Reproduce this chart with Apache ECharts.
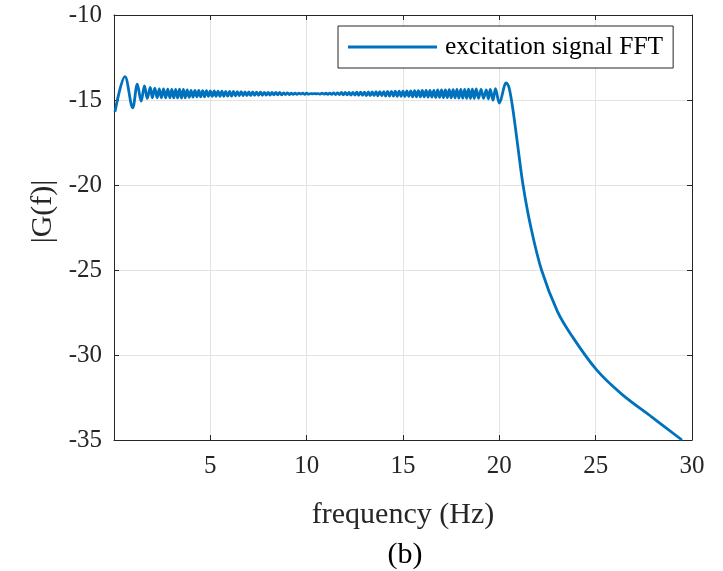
<!DOCTYPE html>
<html>
<head>
<meta charset="utf-8">
<script src="https://cdn.jsdelivr.net/npm/echarts@6/dist/echarts.min.js"></script>
<style>
  html, body { margin: 0; padding: 0; background: #fff; }
  #chart { width: 723px; height: 571px; }
</style>
</head>
<body>
<div id="chart"></div>
<script>
// Spectrum magnitude of the excitation signal, |G(f)|, against frequency (Hz).

// Gibbs ripple at the low band edge (peaks and troughs)
const lowEdgeFreq = [0.05, 0.57, 0.97, 1.21, 1.41, 1.58, 1.73, 1.88, 1.99, 2.12, 2.24,
                     2.35, 2.46, 2.57, 2.68, 2.79, 2.90, 3.00, 3.10, 3.20, 3.30];
const lowEdgeGain = [-15.69, -13.62, -15.46, -14.07, -15.07, -14.17, -14.91, -14.26, -14.87, -14.30, -14.86,
                     -14.34, -14.87, -14.35, -14.87, -14.36, -14.87, -14.37, -14.88, -14.37, -14.88];

// Fine ripple across the pass band
const passFreq = [
  3.4, 3.5, 3.6, 3.7, 3.8, 3.9,
  4.0, 4.1, 4.2, 4.3, 4.4, 4.5, 4.6, 4.7, 4.8, 4.9,
  5.0, 5.1, 5.2, 5.3, 5.4, 5.5, 5.6, 5.7, 5.8, 5.9,
  6.0, 6.1, 6.2, 6.3, 6.4, 6.5, 6.6, 6.7, 6.8, 6.9,
  7.0, 7.1, 7.2, 7.3, 7.4, 7.5, 7.6, 7.7, 7.8, 7.9,
  8.0, 8.1, 8.2, 8.3, 8.4, 8.5, 8.6, 8.7, 8.8, 8.9,
  9.0, 9.1, 9.2, 9.3, 9.4, 9.5, 9.6, 9.7, 9.8, 9.9,
  10.0, 10.1, 10.2, 10.3, 10.4, 10.5, 10.6, 10.7, 10.8, 10.9,
  11.0, 11.1, 11.2, 11.3, 11.4, 11.5, 11.6, 11.7, 11.8, 11.9,
  12.0, 12.1, 12.2, 12.3, 12.4, 12.5, 12.6, 12.7, 12.8, 12.9,
  13.0, 13.1, 13.2, 13.3, 13.4, 13.5, 13.6, 13.7, 13.8, 13.9,
  14.0, 14.1, 14.2, 14.3, 14.4, 14.5, 14.6, 14.7, 14.8, 14.9,
  15.0, 15.1, 15.2, 15.3, 15.4, 15.5, 15.6, 15.7, 15.8, 15.9,
  16.0, 16.1, 16.2, 16.3, 16.4, 16.5, 16.6, 16.7, 16.8, 16.9,
  17.0, 17.1, 17.2, 17.3, 17.4, 17.5, 17.6, 17.7, 17.8, 17.9,
  18.0, 18.1, 18.2, 18.3, 18.4, 18.5, 18.6, 18.7, 18.8
];
const passGain = [
  -14.36, -14.89, -14.37, -14.87, -14.40, -14.85,
  -14.43, -14.83, -14.43, -14.82, -14.44, -14.82, -14.45, -14.81, -14.45, -14.79,
  -14.47, -14.79, -14.47, -14.78, -14.48, -14.78, -14.48, -14.78, -14.50, -14.77,
  -14.50, -14.77, -14.50, -14.75, -14.51, -14.75, -14.51, -14.75, -14.52, -14.74,
  -14.52, -14.74, -14.52, -14.72, -14.54, -14.72, -14.54, -14.72, -14.55, -14.71,
  -14.55, -14.71, -14.55, -14.70, -14.56, -14.70, -14.56, -14.70, -14.58, -14.68,
  -14.58, -14.68, -14.59, -14.67, -14.59, -14.67, -14.60, -14.66, -14.60, -14.67,
  -14.60, -14.66, -14.62, -14.64, -14.62, -14.64, -14.62, -14.66, -14.60, -14.66,
  -14.59, -14.67, -14.59, -14.67, -14.58, -14.68, -14.58, -14.68, -14.56, -14.70,
  -14.56, -14.70, -14.55, -14.71, -14.55, -14.71, -14.54, -14.72, -14.54, -14.72,
  -14.54, -14.74, -14.52, -14.74, -14.52, -14.74, -14.51, -14.75, -14.51, -14.75,
  -14.51, -14.77, -14.49, -14.77, -14.49, -14.77, -14.48, -14.78, -14.48, -14.78,
  -14.48, -14.79, -14.47, -14.79, -14.47, -14.81, -14.45, -14.81, -14.45, -14.82,
  -14.44, -14.82, -14.44, -14.83, -14.43, -14.83, -14.43, -14.85, -14.41, -14.85,
  -14.40, -14.86, -14.40, -14.86, -14.39, -14.87, -14.39, -14.87, -14.37, -14.89,
  -14.37, -14.89, -14.37, -14.90, -14.36, -14.90, -14.36, -14.91, -14.35
];

// Gibbs ripple at the high band edge
const highEdgeFreq = [18.92, 19.05, 19.18, 19.32, 19.43, 19.53, 19.67, 19.80, 20.00, 20.36];
const highEdgeGain = [-14.90, -14.38, -14.90, -14.40, -14.93, -14.38, -15.01, -14.33, -15.18, -14.00];

// Roll-off above the band
const rollFreq = [20.50, 20.71, 20.94, 21.23, 21.63, 22.19, 23.02, 23.75, 25.05, 26.35, 27.92, 29.48];
const rollGain = [-14.25, -15.60, -17.55, -20.00, -22.45, -25.00, -27.45, -28.85, -30.88, -32.30, -33.65, -35.00];

// Axis ticks
const xTicks = { min: 0, max: 30, step: 5 };
const yTicks = { min: -35, max: -10, step: 5 };

const seriesName = 'excitation signal FFT';

function pairs(fs, gs) { return fs.map((f, i) => [f, gs[i]]); }
const spectrum = [].concat(
  pairs(lowEdgeFreq, lowEdgeGain),
  pairs(passFreq, passGain),
  pairs(highEdgeFreq, highEdgeGain),
  pairs(rollFreq, rollGain)
);

const FONT = '"Liberation Serif", "Times New Roman", serif';
const INK = '#262626';

const axisCommon = {
  axisLine: { show: true, onZero: false, lineStyle: { color: INK, width: 1 } },
  axisTick: { show: true, inside: true, length: 5, lineStyle: { color: INK } },
  splitLine: { show: false },
  axisLabel: { show: false }
};

const chart = echarts.init(document.getElementById('chart'), null, { renderer: 'canvas' });
chart.setOption({
  animation: false,
  backgroundColor: '#fff',
  title: {
    text: '(b)',
    left: 400, top: 535, textAlign: 'center',
    textStyle: { fontFamily: FONT, fontSize: 30, fontWeight: 'normal', color: '#000' }
  },
  grid: { left: 114, right: 31, top: 15, bottom: 131, containLabel: false },
  legend: {
    left: 338, top: 26,
    padding: [8, 10, 8, 10],
    backgroundColor: '#fff',
    borderColor: INK, borderWidth: 1,
    itemWidth: 89, itemHeight: 14,
    textStyle: { fontFamily: FONT, fontSize: 25.5, lineHeight: 26, color: '#000', padding: [0, 0, 0, 3] },
    data: [{ name: seriesName, icon: 'path://M0,0 L89,0 L89,3 L0,3 Z' }]
  },
  xAxis: [
    Object.assign({}, axisCommon, {
      type: 'value', position: 'bottom',
      min: xTicks.min, max: xTicks.max, interval: xTicks.step,
      name: 'frequency (Hz)', nameLocation: 'middle', nameGap: 60,
      nameTextStyle: { fontFamily: FONT, fontSize: 30, color: INK },
      axisLabel: {
        show: true, margin: 14,
        fontFamily: FONT, fontSize: 25, color: INK,
        formatter: v => (v === 0 ? '' : String(v))
      },
      splitLine: { show: true, lineStyle: { color: '#e3e3e3', width: 1 } }
    }),
    Object.assign({}, axisCommon, {
      type: 'value', position: 'top',
      min: xTicks.min, max: xTicks.max, interval: xTicks.step
    })
  ],
  yAxis: [
    Object.assign({}, axisCommon, {
      type: 'value', position: 'left',
      min: yTicks.min, max: yTicks.max, interval: yTicks.step,
      name: '|G(f)|', nameLocation: 'middle', nameGap: 55,
      nameTextStyle: { fontFamily: FONT, fontSize: 30, color: INK, padding: [0, 0, 0, 32] },
      axisLabel: { show: true, margin: 12, fontFamily: FONT, fontSize: 25, color: INK },
      splitLine: { show: true, lineStyle: { color: '#e3e3e3', width: 1 } }
    }),
    Object.assign({}, axisCommon, {
      type: 'value', position: 'right',
      min: yTicks.min, max: yTicks.max, interval: yTicks.step
    })
  ],
  series: [{
    name: seriesName,
    type: 'line',
    xAxisIndex: 0, yAxisIndex: 0,
    data: spectrum,
    symbol: 'none',
    smooth: 0.35,
    clip: true,
    lineStyle: { color: '#0072BD', width: 2.8 },
    itemStyle: { color: '#0072BD' }
  }]
});
</script>
</body>
</html>
